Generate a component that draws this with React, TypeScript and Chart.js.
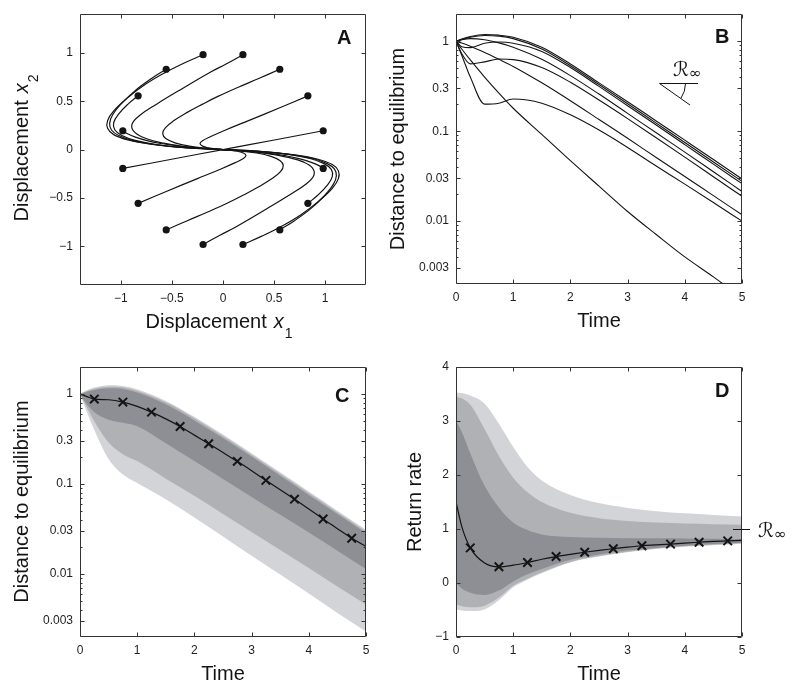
import React, { useEffect, useRef } from "react";
import { Chart, registerables } from "chart.js";

Chart.register(...registerables);

const FONT = "'Liberation Sans', Arial, Helvetica, sans-serif";
const INK = "#141414";
const FRAME = "#333333";
const LIGHT = "rgb(211,212,215)";
const MID = "rgb(176,177,181)";
const DARK = "rgb(142,143,148)";

// ---------------- Panel A : phase-plane trajectories ----------------
const A_TICKS = [-1, -0.5, 0, 0.5, 1];
const A_TICK_LABELS = ["\u22121", "\u22120.5", "0", "0.5", "1"];

const TRAJ_01 = [[-0.195, 0.981], [-0.38, 0.895], [-0.56, 0.8], [-0.76, 0.675], [-0.94, 0.53], [-1.07, 0.4], [-1.13, 0.3], [-1.13, 0.22], [-1.07, 0.155], [-0.93, 0.1], [-0.7, 0.055], [-0.4, 0.022], [0, 0]];
const TRAJ_02 = [[-0.556, 0.831], [-0.7, 0.735], [-0.86, 0.61], [-0.99, 0.48], [-1.08, 0.36], [-1.11, 0.27], [-1.09, 0.2], [-1.02, 0.145], [-0.89, 0.095], [-0.67, 0.052], [-0.38, 0.02], [0, 0]];
const TRAJ_03 = [[-0.831, 0.556], [-0.93, 0.47], [-1.02, 0.37], [-1.07, 0.28], [-1.06, 0.205], [-0.99, 0.145], [-0.86, 0.095], [-0.64, 0.05], [-0.36, 0.019], [0, 0]];
const TRAJ_04 = [[-0.981, 0.195], [-0.94, 0.166], [-0.865, 0.132], [-0.734, 0.09], [-0.61, 0.063], [-0.497, 0.045], [-0.32, 0.023], [-0.17, 0.01], [0, 0]];
const TRAJ_05 = [[0.195, 0.981], [0.03, 0.885], [-0.125, 0.8], [-0.4, 0.63], [-0.65, 0.47], [-0.82, 0.35], [-0.89, 0.265], [-0.875, 0.19], [-0.79, 0.13], [-0.64, 0.08], [-0.44, 0.042], [-0.22, 0.016], [0, 0]];
const TRAJ_06 = [[0.556, 0.831], [0.35, 0.735], [0.15, 0.645], [-0.05, 0.55], [-0.2, 0.47], [-0.35, 0.385], [-0.48, 0.3], [-0.565, 0.225], [-0.59, 0.165], [-0.56, 0.115], [-0.47, 0.07], [-0.33, 0.035], [-0.15, 0.012], [0, 0]];
const TRAJ_07 = [[0.831, 0.556], [0.55, 0.43], [0.25, 0.3], [0.02, 0.2], [-0.12, 0.135], [-0.2, 0.092], [-0.225, 0.062], [-0.2, 0.036], [-0.14, 0.017], [-0.07, 0.006], [0, 0]];
const TRAJ_08 = [[0.981, 0.195], [0.49, 0.097], [0, 0]];
const TRAJ_09 = [[0.195, -0.981], [0.38, -0.895], [0.56, -0.8], [0.76, -0.675], [0.94, -0.53], [1.07, -0.4], [1.13, -0.3], [1.13, -0.22], [1.07, -0.155], [0.93, -0.1], [0.7, -0.055], [0.4, -0.022], [0, 0]];
const TRAJ_10 = [[0.556, -0.831], [0.7, -0.735], [0.86, -0.61], [0.99, -0.48], [1.08, -0.36], [1.11, -0.27], [1.09, -0.2], [1.02, -0.145], [0.89, -0.095], [0.67, -0.052], [0.38, -0.02], [0, 0]];
const TRAJ_11 = [[0.831, -0.556], [0.93, -0.47], [1.02, -0.37], [1.07, -0.28], [1.06, -0.205], [0.99, -0.145], [0.86, -0.095], [0.64, -0.05], [0.36, -0.019], [0, 0]];
const TRAJ_12 = [[0.981, -0.195], [0.94, -0.166], [0.865, -0.132], [0.734, -0.09], [0.61, -0.063], [0.497, -0.045], [0.32, -0.023], [0.17, -0.01], [0, 0]];
const TRAJ_13 = [[-0.195, -0.981], [-0.03, -0.885], [0.125, -0.8], [0.4, -0.63], [0.65, -0.47], [0.82, -0.35], [0.89, -0.265], [0.875, -0.19], [0.79, -0.13], [0.64, -0.08], [0.44, -0.042], [0.22, -0.016], [0, 0]];
const TRAJ_14 = [[-0.556, -0.831], [-0.35, -0.735], [-0.15, -0.645], [0.05, -0.55], [0.2, -0.47], [0.35, -0.385], [0.48, -0.3], [0.565, -0.225], [0.59, -0.165], [0.56, -0.115], [0.47, -0.07], [0.33, -0.035], [0.15, -0.012], [0, 0]];
const TRAJ_15 = [[-0.831, -0.556], [-0.55, -0.43], [-0.25, -0.3], [-0.02, -0.2], [0.12, -0.135], [0.2, -0.092], [0.225, -0.062], [0.2, -0.036], [0.14, -0.017], [0.07, -0.006], [0, 0]];
const TRAJ_16 = [[-0.981, -0.195], [-0.49, -0.097], [0, 0]];
const A_TRAJECTORIES = [TRAJ_01, TRAJ_02, TRAJ_03, TRAJ_04, TRAJ_05, TRAJ_06, TRAJ_07, TRAJ_08, TRAJ_09, TRAJ_10, TRAJ_11, TRAJ_12, TRAJ_13, TRAJ_14, TRAJ_15, TRAJ_16];

// ---------------- shared axes ----------------
const TIME_TICKS = [0, 1, 2, 3, 4, 5];
const TIME_LABELS = ["0", "1", "2", "3", "4", "5"];
const LOG_TICKS = [0.003, 0.01, 0.03, 0.1, 0.3, 1];
const LOG_LABELS = ["0.003", "0.01", "0.03", "0.1", "0.3", "1"];
const LOG_MINOR = [0.004, 0.005, 0.006, 0.007, 0.008, 0.009, 0.02, 0.04, 0.05, 0.06, 0.07, 0.08, 0.09, 0.2, 0.4, 0.5, 0.6, 0.7, 0.8, 0.9];

// ---------------- Panel B : distance to equilibrium ----------------
const B_TIME = [0, 0.1, 0.25, 0.5, 0.75, 1, 1.5, 2, 2.5, 3, 3.5, 4, 4.5, 5];
const B_CURVE_1 = [1, 1.06, 1.13, 1.19, 1.17, 1.11, 0.86, 0.56, 0.345, 0.213, 0.13, 0.0795, 0.0485, 0.0294];
const B_CURVE_2 = [1, 1.04, 1.11, 1.16, 1.14, 1.07, 0.82, 0.535, 0.33, 0.202, 0.123, 0.075, 0.0455, 0.0277];
const B_CURVE_3 = [1, 0.87, 0.85, 0.95, 0.98, 0.95, 0.77, 0.51, 0.315, 0.192, 0.117, 0.071, 0.043, 0.0261];
const B_CURVE_4 = [1, 1.04, 1.07, 1.04, 0.96, 0.86, 0.63, 0.415, 0.259, 0.158, 0.096, 0.0585, 0.0354, 0.0214];
const B_CURVE_5 = [1, 0.73, 0.56, 0.59, 0.635, 0.625, 0.51, 0.35, 0.222, 0.138, 0.0845, 0.0515, 0.0312, 0.0189];
const B_CURVE_6 = [1, 0.955, 0.88, 0.75, 0.63, 0.525, 0.345, 0.218, 0.135, 0.0835, 0.051, 0.0314, 0.0192, 0.0118];
const B_CURVE_7 = [1, 0.7, 0.4, 0.2, 0.205, 0.228, 0.205, 0.152, 0.103, 0.066, 0.041, 0.0258, 0.0161, 0.01];
const B_CURVE_8 = [1, 0.82, 0.62, 0.4, 0.265, 0.18, 0.092, 0.047, 0.0245, 0.0128, 0.0071, 0.004, 0.0024, 0.0014];
const B_CURVES = [B_CURVE_1, B_CURVE_2, B_CURVE_3, B_CURVE_4, B_CURVE_5, B_CURVE_6, B_CURVE_7, B_CURVE_8];

// ---------------- Panel C : distance quantile bands ----------------
const C_TIME = [0, 0.1, 0.25, 0.5, 0.75, 1, 1.5, 2, 2.5, 3, 3.5, 4, 4.5, 5];
const C_LIGHT_HI = [1, 1.09, 1.18, 1.25, 1.23, 1.13, 0.84, 0.56, 0.355, 0.22, 0.135, 0.0825, 0.0505, 0.031];
const C_MID_HI = [1, 1.07, 1.15, 1.21, 1.19, 1.09, 0.81, 0.54, 0.342, 0.212, 0.13, 0.0795, 0.0487, 0.0298];
const C_DARK_HI = [1, 1.05, 1.11, 1.16, 1.14, 1.04, 0.77, 0.51, 0.325, 0.202, 0.124, 0.0758, 0.0464, 0.0284];
const C_DARK_LO = [1, 0.8, 0.63, 0.52, 0.48, 0.44, 0.285, 0.18, 0.114, 0.072, 0.0456, 0.029, 0.0182, 0.0114];
const C_MID_LO = [1, 0.75, 0.5, 0.29, 0.215, 0.18, 0.115, 0.074, 0.0466, 0.0293, 0.0185, 0.0117, 0.0073, 0.0046];
const C_LIGHT_LO = [1, 0.68, 0.4, 0.19, 0.128, 0.103, 0.068, 0.0425, 0.0262, 0.016, 0.0099, 0.0061, 0.0037, 0.0023];
const MEDIAN_TIME = [0, 0.1, 0.25, 0.5, 0.75, 1, 1.25, 1.5, 1.75, 2, 2.25, 2.5, 2.75, 3, 3.25, 3.5, 3.75, 4, 4.25, 4.5, 4.75, 5];
const C_MEDIAN = [1, 0.95, 0.88, 0.865, 0.815, 0.73, 0.63, 0.53, 0.437, 0.35, 0.281, 0.224, 0.179, 0.141, 0.11, 0.0865, 0.068, 0.053, 0.041, 0.032, 0.025, 0.0203];
const MARK_TIME = [0.25, 0.75, 1.25, 1.75, 2.25, 2.75, 3.25, 3.75, 4.25, 4.75];
const C_MARKS = [0.88, 0.815, 0.63, 0.437, 0.281, 0.179, 0.11, 0.068, 0.041, 0.025];

// ---------------- Panel D : return rate bands ----------------
const D_Y_TICKS = [-1, 0, 1, 2, 3, 4];
const D_Y_LABELS = ["\u22121", "0", "1", "2", "3", "4"];
const D_TIME = [0, 0.1, 0.25, 0.5, 0.75, 1, 1.25, 1.5, 2, 2.5, 3, 3.5, 4, 4.5, 5];
const D_LIGHT_HI = [3.53, 3.52, 3.47, 3.32, 2.95, 2.52, 2.15, 1.9, 1.63, 1.48, 1.39, 1.33, 1.29, 1.26, 1.23];
const D_MID_HI = [3.45, 3.42, 3.3, 2.85, 2.35, 1.95, 1.68, 1.5, 1.3, 1.2, 1.15, 1.12, 1.1, 1.09, 1.08];
const D_DARK_HI = [3.0, 2.8, 2.4, 1.8, 1.4, 1.12, 0.98, 0.9, 0.85, 0.84, 0.83, 0.83, 0.825, 0.82, 0.815];
const D_DARK_LO = [0.0, -0.1, -0.18, -0.22, -0.14, 0.03, 0.16, 0.26, 0.43, 0.53, 0.6, 0.65, 0.69, 0.72, 0.745];
const D_MID_LO = [-0.4, -0.43, -0.45, -0.42, -0.27, -0.05, 0.08, 0.2, 0.39, 0.5, 0.58, 0.64, 0.68, 0.71, 0.735];
const D_LIGHT_LO = [-0.49, -0.51, -0.52, -0.49, -0.32, -0.08, 0.06, 0.18, 0.38, 0.49, 0.57, 0.63, 0.67, 0.7, 0.725];
const D_MEDIAN = [1.5, 1.05, 0.65, 0.37, 0.3, 0.33, 0.38, 0.44, 0.49, 0.53, 0.57, 0.605, 0.635, 0.665, 0.69, 0.705, 0.72, 0.74, 0.755, 0.77, 0.78, 0.79];
const D_MARKS = [0.65, 0.3, 0.38, 0.49, 0.57, 0.635, 0.69, 0.72, 0.755, 0.78];
const R_INF = 1;

// ---------------- helpers ----------------
const T20 = `20px ${FONT}`;
const I20 = `italic 20px ${FONT}`;
const S14 = `14px ${FONT}`;
const BOLD = `bold 20px ${FONT}`;
const R20 = `20px 'DejaVu Sans', 'Noto Sans', serif`;
const R14 = `15px 'DejaVu Sans', 'Noto Sans', serif`;

type Part = { t?: string; f?: string; dy?: number; gap?: number };

function rich(ctx: CanvasRenderingContext2D, parts: Part[], x: number, y: number, rot = 0, align = "center") {
  ctx.save();
  ctx.translate(x, y);
  if (rot) ctx.rotate(rot);
  ctx.textBaseline = "alphabetic";
  ctx.textAlign = "left";
  ctx.fillStyle = INK;
  const w = parts.map((p) => {
    if (p.gap) return p.gap;
    ctx.font = p.f as string;
    return ctx.measureText(p.t as string).width;
  });
  const total = w.reduce((s, v) => s + v, 0);
  let cx = align === "center" ? -total / 2 : 0;
  parts.forEach((p, i) => {
    if (p.t) {
      ctx.font = p.f as string;
      ctx.fillText(p.t, cx, p.dy || 0);
    }
    cx += w[i];
  });
  ctx.restore();
}

function axis(type: string, min: number, max: number, ticks: number[], labels: string[], position: string, size: number) {
  return {
    type,
    min,
    max,
    position,
    grid: { display: false, drawTicks: false },
    border: { display: false },
    ticks: {
      autoSkip: false,
      maxRotation: 0,
      minRotation: 0,
      padding: position === "bottom" ? 6 : 7,
      color: "#1e1e1e",
      font: { family: FONT, size: 12 },
      callback: (_v: any, i: number) => labels[i] ?? "",
    },
    afterBuildTicks: (s: any) => {
      s.ticks = ticks.map((value) => ({ value }));
    },
    afterFit: (s: any) => {
      if (position === "bottom") s.height = size;
      else s.width = size;
    },
  };
}

function framePlugin(xt: number[], yt: number[], yMinor: number[], extra: (ctx: CanvasRenderingContext2D, chart: any) => void) {
  return {
    id: "frame",
    afterDraw(chart: any) {
      const { ctx, chartArea: a } = chart;
      const xs = chart.scales.x;
      const ys = chart.scales.y;
      const L = Math.round(a.left) + 0.5;
      const R = Math.round(a.right) - 0.5;
      const T = Math.round(a.top) + 0.5;
      const B = Math.round(a.bottom) - 0.5;
      ctx.save();
      ctx.strokeStyle = FRAME;
      ctx.lineWidth = 1;
      ctx.beginPath();
      ctx.rect(L, T, R - L, B - T);
      for (const v of xt) {
        const p = Math.round(xs.getPixelForValue(v)) + 0.5;
        ctx.moveTo(p, B);
        ctx.lineTo(p, B - 4);
        ctx.moveTo(p, T);
        ctx.lineTo(p, T + 4);
      }
      for (const v of yt) {
        const p = Math.round(ys.getPixelForValue(v)) + 0.5;
        ctx.moveTo(L, p);
        ctx.lineTo(L + 4, p);
        ctx.moveTo(R, p);
        ctx.lineTo(R - 4, p);
      }
      for (const v of yMinor) {
        const p = Math.round(ys.getPixelForValue(v)) + 0.5;
        ctx.moveTo(L, p);
        ctx.lineTo(L + 2, p);
        ctx.moveTo(R, p);
        ctx.lineTo(R - 2, p);
      }
      ctx.stroke();
      ctx.restore();
      ctx.save();
      extra(ctx, chart);
      ctx.restore();
    },
  };
}

const baseOptions = (padding: any) => ({
  animation: false,
  responsive: false,
  devicePixelRatio: 1,
  events: [],
  layout: { padding },
  plugins: { legend: { display: false }, tooltip: { enabled: false } },
});

function band(values: number[], time: number[], color: string, fill: any) {
  return {
    data: time.map((x, i) => ({ x, y: values[i] })),
    borderWidth: 0,
    borderColor: "rgba(0,0,0,0)",
    backgroundColor: color,
    pointRadius: 0,
    cubicInterpolationMode: "monotone",
    fill,
  };
}

function marks(values: number[]) {
  return {
    data: MARK_TIME.map((x, i) => ({ x, y: values[i] })),
    showLine: false,
    pointStyle: "crossRot",
    pointRadius: 6,
    pointBorderWidth: 2,
    pointBorderColor: INK,
    pointBackgroundColor: INK,
  };
}

function medianLine(values: number[]) {
  return {
    data: MEDIAN_TIME.map((x, i) => ({ x, y: values[i] })),
    borderColor: INK,
    borderWidth: 1.2,
    pointRadius: 0,
    cubicInterpolationMode: "monotone",
    fill: false,
  };
}

// ---------------- chart builders ----------------
function makeA() {
  return {
    type: "line",
    data: {
      datasets: [
        {
          data: A_TRAJECTORIES.map((tr) => ({ x: tr[0][0], y: tr[0][1] })),
          showLine: false,
          pointRadius: 3.6,
          pointBorderWidth: 0,
          pointBackgroundColor: INK,
        },
        ...A_TRAJECTORIES.map((tr) => ({
          data: tr.map(([x, y]) => ({ x, y })),
          borderColor: INK,
          borderWidth: 1.2,
          pointRadius: 0,
          tension: 0.4,
          fill: false,
        })),
      ],
    },
    options: {
      ...baseOptions({ left: 0, top: 13, right: 34, bottom: 0 }),
      scales: {
        x: axis("linear", -1.4, 1.4, A_TICKS, A_TICK_LABELS, "bottom", 62),
        y: axis("linear", -1.4, 1.4, A_TICKS, A_TICK_LABELS, "left", 80),
      },
    },
    plugins: [
      framePlugin(A_TICKS, A_TICKS, [], (ctx) => {
        rich(ctx, [{ t: "Displacement", f: T20 }, { gap: 7 }, { t: "x", f: I20 }, { gap: 1 }, { t: "1", f: S14, dy: 10 }], 219, 328);
        rich(ctx, [{ t: "Displacement", f: T20 }, { gap: 7 }, { t: "x", f: I20 }, { gap: 1 }, { t: "2", f: S14, dy: 10 }], 28, 148, -Math.PI / 2);
        rich(ctx, [{ t: "A", f: BOLD }], 337, 43.5, 0, "left");
      }),
    ],
  };
}

function makeB() {
  return {
    type: "line",
    data: {
      datasets: B_CURVES.map((c) => ({
        data: B_TIME.map((x, i) => ({ x, y: c[i] })),
        borderColor: INK,
        borderWidth: 1.1,
        pointRadius: 0,
        cubicInterpolationMode: "monotone",
        fill: false,
      })),
    },
    options: {
      ...baseOptions({ left: 0, top: 13, right: 58, bottom: 0 }),
      scales: {
        x: axis("linear", 0, 5, TIME_TICKS, TIME_LABELS, "bottom", 63),
        y: axis("logarithmic", 0.002, 2, LOG_TICKS, LOG_LABELS, "left", 86),
      },
    },
    plugins: [
      framePlugin(TIME_TICKS, LOG_TICKS, LOG_MINOR, (ctx) => {
        rich(ctx, [{ t: "Time", f: T20 }], 229, 327);
        rich(ctx, [{ t: "Distance to equilibrium", f: T20 }], 34, 149, -Math.PI / 2);
        rich(ctx, [{ t: "B", f: BOLD }], 345, 43, 0, "left");
        ctx.strokeStyle = INK;
        ctx.lineWidth = 1;
        ctx.beginPath();
        ctx.moveTo(289.5, 83.5);
        ctx.lineTo(328, 83.5);
        ctx.moveTo(289.5, 83.5);
        ctx.lineTo(320, 105);
        ctx.stroke();
        ctx.beginPath();
        ctx.arc(289.5, 83.5, 26, 0, 0.6);
        ctx.stroke();
        rich(ctx, [{ t: "\u211B", f: R20 }, { t: "\u221E", f: R14, dy: 2 }], 303, 76, 0, "left");
      }),
    ],
  };
}

function makeC() {
  return {
    type: "line",
    data: {
      datasets: [
        marks(C_MARKS),
        medianLine(C_MEDIAN),
        band(C_DARK_HI, C_TIME, DARK, "+1"),
        band(C_DARK_LO, C_TIME, DARK, false),
        band(C_MID_HI, C_TIME, MID, "+1"),
        band(C_MID_LO, C_TIME, MID, false),
        band(C_LIGHT_HI, C_TIME, LIGHT, "+1"),
        band(C_LIGHT_LO, C_TIME, LIGHT, false),
      ],
    },
    options: {
      ...baseOptions({ left: 0, top: 20, right: 34, bottom: 0 }),
      scales: {
        x: axis("linear", 0, 5, TIME_TICKS, TIME_LABELS, "bottom", 57),
        y: axis("logarithmic", 0.002, 2, LOG_TICKS, LOG_LABELS, "left", 80),
      },
    },
    plugins: [
      framePlugin(TIME_TICKS, LOG_TICKS, LOG_MINOR, (ctx) => {
        rich(ctx, [{ t: "Time", f: T20 }], 223, 333);
        rich(ctx, [{ t: "Distance to equilibrium", f: T20 }], 28, 154.5, -Math.PI / 2);
        rich(ctx, [{ t: "C", f: BOLD }], 335, 54.5, 0, "left");
      }),
    ],
  };
}

function makeD() {
  return {
    type: "line",
    data: {
      datasets: [
        marks(D_MARKS),
        medianLine(D_MEDIAN),
        band(D_DARK_HI, D_TIME, DARK, "+1"),
        band(D_DARK_LO, D_TIME, DARK, false),
        band(D_MID_HI, D_TIME, MID, "+1"),
        band(D_MID_LO, D_TIME, MID, false),
        band(D_LIGHT_HI, D_TIME, LIGHT, "+1"),
        band(D_LIGHT_LO, D_TIME, LIGHT, false),
      ],
    },
    options: {
      ...baseOptions({ left: 0, top: 20, right: 58, bottom: 0 }),
      scales: {
        x: axis("linear", 0, 5, TIME_TICKS, TIME_LABELS, "bottom", 57),
        y: axis("linear", -1, 4, D_Y_TICKS, D_Y_LABELS, "left", 86),
      },
    },
    plugins: [
      framePlugin(TIME_TICKS, D_Y_TICKS, [], (ctx, chart) => {
        const a = chart.chartArea;
        rich(ctx, [{ t: "Time", f: T20 }], 229, 333);
        rich(ctx, [{ t: "Return rate", f: T20 }], 51, 155, -Math.PI / 2);
        rich(ctx, [{ t: "D", f: BOLD }], 345, 50, 0, "left");
        const yr = Math.round(chart.scales.y.getPixelForValue(R_INF)) + 0.5;
        ctx.strokeStyle = INK;
        ctx.lineWidth = 1;
        ctx.beginPath();
        ctx.moveTo(a.right - 9, yr);
        ctx.lineTo(a.right + 8, yr);
        ctx.stroke();
        rich(ctx, [{ t: "\u211B", f: R20 }, { t: "\u221E", f: R14, dy: 2 }], 388, yr + 7.5, 0, "left");
      }),
    ],
  };
}

function Panel({ left, top, width, height, make }: { left: number; top: number; width: number; height: number; make: () => any }) {
  const ref = useRef<HTMLCanvasElement | null>(null);
  useEffect(() => {
    if (!ref.current) return;
    const chart = new Chart(ref.current, make() as any);
    return () => chart.destroy();
  }, [make]);
  return (
    <canvas
      ref={ref}
      width={width}
      height={height}
      style={{ position: "absolute", left, top, width, height }}
    />
  );
}

export default function App() {
  return (
    <div style={{ position: "absolute", left: 0, top: 0, width: 800, height: 694, background: "#ffffff", overflow: "hidden" }}>
      <Panel left={0} top={0} width={400} height={347} make={makeA} />
      <Panel left={370} top={0} width={430} height={347} make={makeB} />
      <Panel left={0} top={347} width={400} height={347} make={makeC} />
      <Panel left={370} top={347} width={430} height={347} make={makeD} />
    </div>
  );
}
